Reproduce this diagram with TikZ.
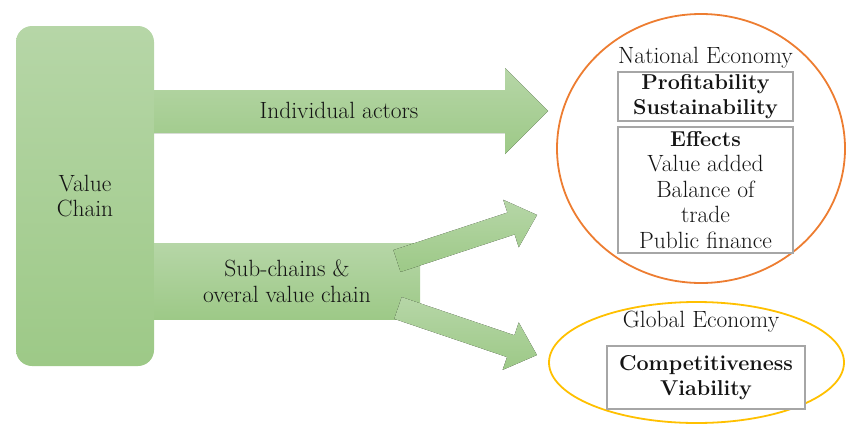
\documentclass[tikz,border=0pt]{standalone}
\usetikzlibrary{shapes.geometric}
\definecolor{gTop}{RGB}{182,214,167}
\definecolor{gBot}{RGB}{157,201,135}
\definecolor{natOr}{RGB}{237,125,49}
\definecolor{globY}{RGB}{255,192,0}
\definecolor{boxG}{RGB}{166,166,166}
\definecolor{txt}{RGB}{20,20,20}
\newcommand{\bfsz}{\fontsize{21.5}{25.5}\selectfont\bfseries}
\begin{document}
\begin{tikzpicture}[x=1pt,y=-1pt,
  greenfill/.style={top color=gTop,bottom color=gBot,draw=none},
  lbl/.style={font=\fontsize{23.5}{25.5}\selectfont, text=txt, align=center, inner sep=0pt},
  infobox/.style={draw=boxG, line width=1.8pt, lbl, fill=white},
  ringline/.style={ellipse, line width=1.8pt, inner sep=0pt},
]
\useasboundingbox (0,0) rectangle (846,426);

% value chain block
\node[greenfill, rounded corners=16pt, minimum width=138pt, minimum height=340pt, inner sep=0pt] (vc) at (85,196) {};
\node[lbl] (vcT) at (85,196) {Value\\Chain};

% top arrow
\fill[greenfill] (154,90) -- (505,90) -- (505,68) -- (548,111) -- (505,154) -- (505,133) -- (154,133) -- cycle;
\node[lbl, anchor=base] (indT) at (339,118) {Individual actors};

% sub-chains block
\node[greenfill, minimum width=266pt, minimum height=76pt, inner sep=0pt] (sub) at (287,281) {};

% diagonal arrows
\begin{scope}[shift={(397,261)}, rotate=18.2]
  \fill[greenfill] (0,-11.5) -- (120,-11.5) -- (120,-25) -- (147.4,0) -- (120,25) -- (120,11.5) -- (0,11.5) -- cycle;
  \coordinate (upTip) at (147.4,0);
\end{scope}
\begin{scope}[shift={(398,308)}, rotate=-18.7]
  \fill[greenfill] (0,-11.5) -- (119,-11.5) -- (119,-25) -- (146.7,0) -- (119,25) -- (119,11.5) -- (0,11.5) -- cycle;
  \coordinate (loTip) at (146.7,0);
\end{scope}
\node[lbl] (subT) at (287,281) {Sub-chains \&\\overal value chain};

% national economy
\node[ringline, draw=natOr, minimum width=288pt, minimum height=269pt] (nat) at (701,148.5) {};
\node[lbl, anchor=base] (natT) at (705.5,63) {National Economy};
\node[infobox, minimum width=175pt, minimum height=49pt] (prof) at (705.5,96.5) {\bfsz Profitability\\\bfsz Sustainability};
\node[infobox, minimum width=175pt, minimum height=126pt] (eff) at (705.5,190) {\bfsz Effects\\Value added\\Balance of\\trade\\Public finance};

% global economy
\node[ringline, draw=globY, minimum width=295pt, minimum height=121pt] (glob) at (696.5,362.5) {};
\node[lbl, anchor=base] (globT) at (701,327) {Global Economy};
\node[infobox, minimum width=198pt, minimum height=63pt] (comp) at (706,377.5) {\bfsz Competitiveness\\\bfsz Viability};
\end{tikzpicture}
\end{document}
